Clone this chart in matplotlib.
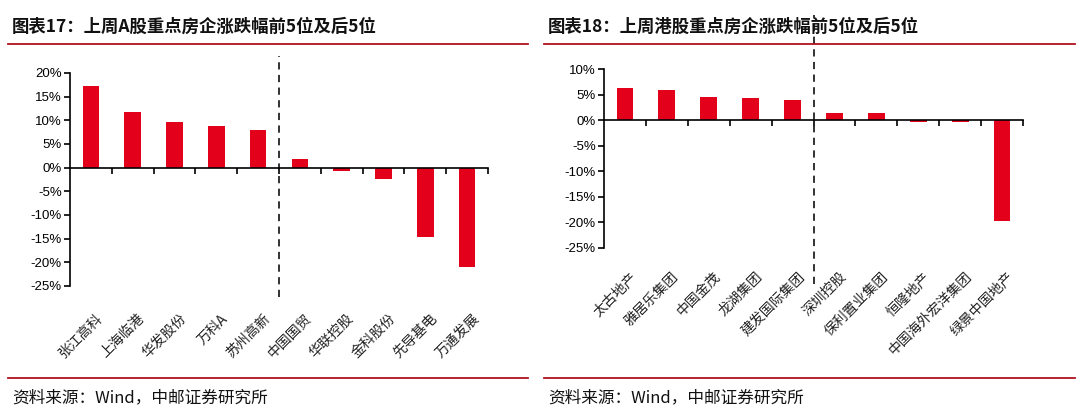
import matplotlib
matplotlib.use("Agg")
import matplotlib.pyplot as plt
import matplotlib.transforms as mtrans
from matplotlib.lines import Line2D

plt.rcParams['font.family'] = ['Noto Sans CJK SC', 'DejaVu Sans']

a_names = ["张江高科", "上海临港", "华发股份", "万科A", "苏州高新", "中国国贸", "华联控股", "金科股份", "先导基电", "万通发展"]
a_vals = [17.2, 11.8, 9.6, 8.8, 8.0, 1.8, -0.7, -2.5, -14.7, -20.9]
h_names = ["太古地产", "雅居乐集团", "中国金茂", "龙湖集团", "建发国际集团", "深圳控股", "保利置业集团", "恒隆地产", "中国海外宏洋集团", "绿景中国地产"]
h_vals = [6.2, 5.9, 4.5, 4.3, 4.0, 1.3, 1.3, -0.3, -0.3, -19.8]
a_ticks = [20, 15, 10, 5, 0, -5, -10, -15, -20, -25]
h_ticks = [10, 5, 0, -5, -10, -15, -20, -25]

W, H = 1080, 417
fig = plt.figure(figsize=(W/100, H/100), dpi=100)
RED = '#E3001B'

def px(x0, y0, x1, y1):
    return [x0/W, 1-y1/H, (x1-x0)/W, (y1-y0)/H]

def panel(rect, names, vals, ticks, ylim, dash_ext):
    ax = fig.add_axes(rect)
    x = list(range(len(vals)))
    ax.bar(x, vals, width=0.4, color=RED)
    ax.set_xlim(-0.5, len(vals)-0.5)
    ax.set_ylim(*ylim)
    ax.set_yticks(ticks)
    ax.set_yticklabels([f"{t}%" for t in ticks], family=['Liberation Sans'], fontsize=9.5)
    for s in ['top', 'right']:
        ax.spines[s].set_visible(False)
    ax.spines['bottom'].set_position(('data', 0))
    ax.spines['left'].set_linewidth(1.2)
    ax.spines['bottom'].set_linewidth(1.2)
    ax.set_xticks([i+0.5 for i in range(len(vals))])
    ax.set_xticklabels([])
    ax.tick_params(axis='x', direction='out', length=4, width=1.2)
    ax.tick_params(axis='y', direction='out', length=4, width=1.2, pad=2)
    tr = mtrans.blended_transform_factory(ax.transData, ax.transAxes)
    for i, n in enumerate(names):
        ax.text(i+0.35, -0.12, n, rotation=45, ha='right', va='top', transform=tr,
                fontsize=10, color='#222222')
    ax.plot([4.5, 4.5], dash_ext, transform=tr, ls=(0, (4, 3)), color='#222222', lw=1.3, clip_on=False)
    return ax

panel(px(70, 73, 488, 286), a_names, a_vals, a_ticks, (-25, 20), (-0.05, 1.08))
panel(px(604, 69, 1023, 248), h_names, h_vals, h_ticks, (-25, 10), (-0.2, 1.3))

fig.text(12/W, 1-27/H, "图表17：上周A股重点房企涨跌幅前5位及后5位", fontsize=12.5, fontweight='bold', va='center', color='#111111')
fig.text(548/W, 1-27/H, "图表18：上周港股重点房企涨跌幅前5位及后5位", fontsize=12.5, fontweight='bold', va='center', color='#111111')
fig.text(12/W, 1-398/H, "资料来源：Wind，中邮证券研究所", fontsize=12, va='center', color='#111111')
fig.text(548/W, 1-398/H, "资料来源：Wind，中邮证券研究所", fontsize=12, va='center', color='#111111')
for (x0, x1) in [(8, 528), (544, 1075)]:
    for y in (44, 378):
        fig.add_artist(Line2D([x0/W, x1/W], [1-y/H, 1-y/H], color='#B01020', lw=1.3))

fig.savefig("out.png", dpi=100)
